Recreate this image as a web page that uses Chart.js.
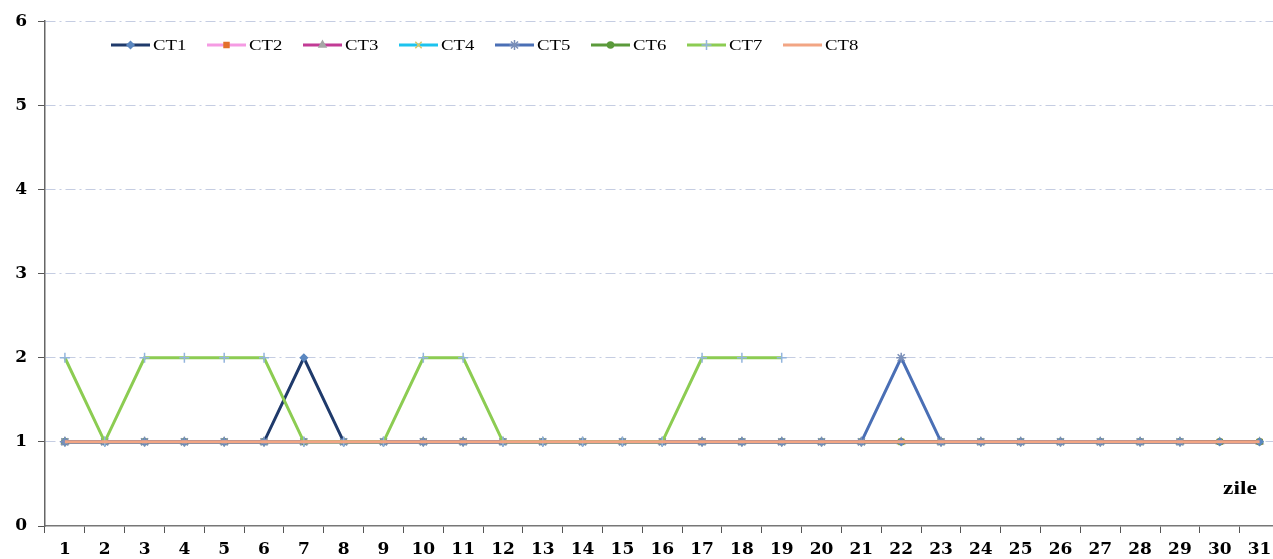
<!DOCTYPE html>
<html>
<head>
<meta charset="utf-8">
<script src="https://cdn.jsdelivr.net/npm/chart.js@4"></script>
<style>
html,body{margin:0;padding:0;background:#fff;overflow:hidden;width:1273px;height:559px;}
#wrap{position:absolute;left:0;top:0;width:1286px;height:559px;}
</style>
</head>
<body>
<div id="wrap"><canvas id="c" width="1286" height="559"></canvas></div>
<script>
const days = ["1","2","3","4","5","6","7","8","9","10","11","12","13","14","15","16","17","18","19","20","21","22","23","24","25","26","27","28","29","30","31"];
const yTicks = [0,1,2,3,4,5,6];
const seriesNames = ["CT1","CT2","CT3","CT4","CT5","CT6","CT7","CT8"];
const ct1 = [1,1,1,1,1,1,2,1,1,1,1,1,1,1,1,1,1,1,1,1,1,1,1,1,1,1,1,1,1,1,1];
const ct2 = [1,1,1,1,1,1,1,1,1,1,1,1,1,1,1,1,1,1,1,1,1,1,1,1,1,1,1,1,1,1,1];
const ct3 = [1,1,1,1,1,1,1,1,1,1,1,1,1,1,1,1,1,1,1,1,1,1,1,1,1,1,1,1,1,1,1];
const ct4 = [1,1,1,1,1,1,1,1,1,1,1,1,1,1,1,1,1,1,1,1,1,1,1,1,1,1,1,1,1,null,null];
const ct5 = [1,1,1,1,1,1,1,1,1,1,1,1,1,1,1,1,1,1,1,1,1,2,1,1,1,1,1,1,1,null,null];
const ct6 = [1,1,1,1,1,1,1,1,1,1,1,1,1,1,1,1,1,1,1,1,1,1,1,1,1,1,1,1,1,1,1];
const ct7 = [2,1,2,2,2,2,1,1,1,2,2,1,1,1,1,1,2,2,2,null,null,null,null,null,null,null,null,null,null,null,null];
const ct8 = [1,1,1,1,1,1,1,1,1,1,1,1,1,1,1,1,1,1,1,1,1,1,1,1,1,1,1,1,1,1,1];
const xTitle = "zile";

const styles = [
  {line:"#1f3a6b", pt:"rectRot", pc:"#5b87c0", r:3.5},
  {line:"#f59be3", pt:"rect", pc:"#e3702c", r:3.5},
  {line:"#c23b95", pt:"triangle", pc:"#a6a6a6", r:4},
  {line:"#1cc3ee", pt:"crossRot", pc:"#d6c76a", r:4.5},
  {line:"#4a6fb5", pt:"star", pc:"#7a8fb8", r:5},
  {line:"#5b9a3b", pt:"circle", pc:"#5b9a3b", r:3},
  {line:"#8ccc52", pt:"cross", pc:"#93b5dd", r:5},
  {line:"#f2a584", pt:false, pc:"#f2a584", r:0}
];
const allData = [ct1,ct2,ct3,ct4,ct5,ct6,ct7,ct8];
const orders = [3,9,8,7,2,6,1,0];

const datasets = allData.map((d,i)=>({
  label: seriesNames[i],
  data: d,
  borderColor: styles[i].line,
  backgroundColor: styles[i].pc,
  pointStyle: styles[i].pt,
  pointRadius: styles[i].r,
  pointHoverRadius: styles[i].r,
  pointBorderColor: styles[i].pc,
  pointBackgroundColor: styles[i].pc,
  pointBorderWidth: 1.5,
  borderWidth: 3,
  tension: 0,
  spanGaps: false,
  order: orders[i]
}));

const serif = "'Liberation Serif','Times New Roman',serif";
const tickFont = "'DejaVu Serif',serif";

const legendPlugin = {
  id: 'inlegend',
  afterDraw(chart){
    const ctx = chart.ctx;
    ctx.save();
    const y = 45;
    chart.data.datasets.forEach((ds,i)=>{
      const x0 = 111 + i*96;
      ctx.strokeStyle = ds.borderColor;
      ctx.lineWidth = 3;
      ctx.setLineDash([]);
      ctx.beginPath(); ctx.moveTo(x0,y); ctx.lineTo(x0+39,y); ctx.stroke();
      if (ds.pointStyle) {
        ctx.fillStyle = ds.pointBackgroundColor;
        ctx.strokeStyle = ds.pointBorderColor;
        ctx.lineWidth = 1.5;
        Chart.helpers.drawPoint(ctx, {pointStyle: ds.pointStyle, radius: ds.pointRadius, borderWidth: 1.5, rotation:0}, x0+19.5, y);
      }
      ctx.save();
      ctx.translate(x0+42, y+1);
      ctx.scale(1.25,1);
      ctx.fillStyle = '#000';
      ctx.font = "15px " + serif;
      ctx.textBaseline = 'middle';
      ctx.textAlign = 'left';
      ctx.fillText(ds.label, 0, 0);
      ctx.restore();
    });
    ctx.save();
    ctx.translate(1240, 489);
    ctx.scale(1.3,1);
    ctx.font = "bold 18px " + serif;
    ctx.textAlign = 'center';
    ctx.textBaseline = 'middle';
    ctx.fillStyle = '#000';
    ctx.fillText(xTitle, 0, 0);
    ctx.restore();
    ctx.restore();
  }
};

new Chart(document.getElementById('c'), {
  type: 'line',
  data: { labels: days, datasets },
  options: {
    responsive: false,
    animation: false,
    events: [],
    layout: { padding: { top: 18, right: 1, left: 0, bottom: 0 } },
    plugins: { legend: { display: false }, tooltip: { enabled: false } },
    scales: {
      x: {
        type: 'category',
        offset: true,
        grid: { offset: true, drawOnChartArea: false, drawTicks: true, tickLength: 7, color: '#555', tickWidth: 1 },
        border: { display: true, color: '#777', width: 1.5 },
        ticks: { color: '#000', font: { family: tickFont, size: 17, weight: 'bold' }, padding: 6, maxRotation: 0, autoSkip: false },
        afterFit(s){ s.height = 33; }
      },
      y: {
        min: 0, max: 6,
        afterBuildTicks(s){ s.ticks = yTicks.map(v=>({value:v})); },
        grid: { drawTicks: true, tickLength: 7, color: (c)=> c.tick && c.tick.value===0 ? 'rgba(0,0,0,0)' : '#c5cde2', lineWidth: 1, tickColor: '#555' },
        border: { display: true, color: '#666', width: 1.5, dash: [10,4,2,4] },
        ticks: { color: '#000', font: { family: tickFont, size: 17, weight: 'bold' }, padding: 11 },
        afterFit(s){ s.width = 45; }
      }
    }
  },
  plugins: [legendPlugin]
});
</script>
</body>
</html>
